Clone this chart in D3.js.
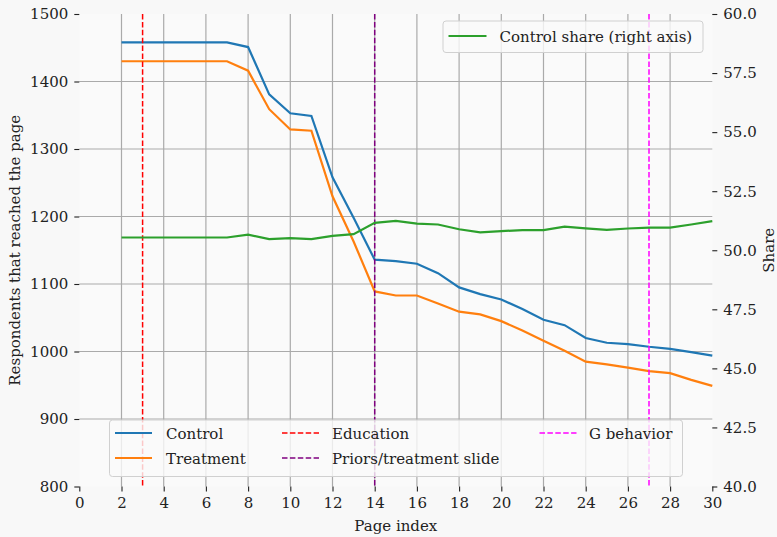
<!DOCTYPE html>
<html>
<head>
<meta charset="utf-8">
<script src="https://cdn.jsdelivr.net/npm/d3@7"></script>
<style>
  html, body { margin: 0; padding: 0; background: #f8f8f8; }
  svg { display: block; }
  svg text { font-family: "DejaVu Serif", "Liberation Serif", serif; fill: #222; }
</style>
</head>
<body>
<svg id="chart" width="777" height="537"></svg>
<script>
// ---- data ----
const pages = [2,3,4,5,6,7,8,9,10,11,12,13,14,15,16,17,18,19,20,21,22,23,24,25,26,27,28,29,30];
const control = [1458,1458,1458,1458,1458,1458,1451,1381,1353,1349,1258,1198,1136,1134,1130,1116,1095,1085,1077,1063,1047,1039,1020,1013,1011,1007,1004,999,994];
const treatment = [1430,1430,1430,1430,1430,1430,1416,1359,1329,1327,1230,1163,1089,1083,1083,1071,1059,1055,1045,1031,1016,1001,985,981,976,971,968,958,949];
const controlShare = [50.54,50.54,50.54,50.54,50.54,50.54,50.66,50.47,50.51,50.47,50.61,50.68,51.16,51.24,51.13,51.09,50.89,50.76,50.81,50.85,50.85,51.0,50.93,50.86,50.92,50.96,50.96,51.09,51.23];
const markerPages = [3, 14, 27];
const markerLabels = ["Education", "Priors/treatment slide", "G behavior"];
const xTicks = [0,2,4,6,8,10,12,14,16,18,20,22,24,26,28,30];
const yTicks = [800,900,1000,1100,1200,1300,1400,1500];
const y2Ticks = [40,42.5,45,47.5,50,52.5,55,57.5,60];

// ---- layout ----
const L = 79.3, R = 712.3, T = 14, B = 486.5;
const svg = d3.select("#chart");
svg.append("rect").attr("width", 777).attr("height", 537).attr("fill", "#f8f8f8");
svg.append("rect").attr("x", L).attr("y", T).attr("width", R - L).attr("height", B - T).attr("fill", "#fafafa");

const x = d3.scaleLinear().domain([0, 30]).range([L, R]);
const y = d3.scaleLinear().domain([800, 1500]).range([B, T]);
const y2 = d3.scaleLinear().domain([40, 60]).range([B, T]);

// grid
const grid = svg.append("g");
grid.selectAll("line.v").data(xTicks.filter(d => d > 0 && d < 30)).join("line")
  .attr("x1", d => x(d)).attr("x2", d => x(d)).attr("y1", T).attr("y2", B)
  .attr("stroke", "#aaaaaa").attr("stroke-width", 1.2);
grid.selectAll("line.h").data(yTicks.filter(d => d > 800 && d < 1500)).join("line")
  .attr("x1", L).attr("x2", R).attr("y1", d => y(d)).attr("y2", d => y(d))
  .attr("stroke", "#aaaaaa").attr("stroke-width", 1.2);

// axes
const fs = 15;
const ax = svg.append("g").attr("transform", `translate(0,${B})`)
  .call(d3.axisBottom(x).tickValues(xTicks).tickFormat(d3.format("d")).tickSize(5).tickPadding(6));
const ayl = svg.append("g").attr("transform", `translate(${L},0)`)
  .call(d3.axisLeft(y).tickValues(yTicks).tickFormat(d3.format("d")).tickSize(5).tickPadding(6));
const ayr = svg.append("g").attr("transform", `translate(${R},0)`)
  .call(d3.axisRight(y2).tickValues(y2Ticks).tickFormat(d3.format(".1f")).tickSize(5).tickPadding(6));
[ax, ayl, ayr].forEach(g => {
  g.attr("font-family", null).attr("font-size", null);
  g.select(".domain").remove();
  g.selectAll(".tick line").attr("stroke", "#222").attr("stroke-width", 1.1);
  g.selectAll(".tick text").style("font-size", fs + "px").attr("fill", "#222");
});

// axis labels
svg.append("text").attr("x", (L + R) / 2).attr("y", 531).attr("text-anchor", "middle")
  .style("font-size", fs + "px").text("Page index");
svg.append("text").attr("transform", `translate(20,${(T + B) / 2}) rotate(-90)`)
  .attr("text-anchor", "middle").style("font-size", fs + "px").text("Respondents that reached the page");
svg.append("text").attr("transform", `translate(774,${(T + B) / 2}) rotate(-90)`)
  .attr("text-anchor", "middle").style("font-size", fs + "px").text("Share");

// lines
const line = (ys, sc) => d3.line().x((d, i) => x(pages[i])).y((d) => sc(d))(ys);
svg.append("path").attr("d", line(control, y)).attr("fill", "none").attr("stroke", "#1f77b4").attr("stroke-width", 2.2);
svg.append("path").attr("d", line(treatment, y)).attr("fill", "none").attr("stroke", "#ff7f0e").attr("stroke-width", 2.2);

// marker vertical lines
const markerColors = ["#ff0000", "#800080", "#ff00ff"];
svg.selectAll("line.mk").data(markerPages).join("line")
  .attr("x1", d => x(d)).attr("x2", d => x(d)).attr("y1", T).attr("y2", B)
  .attr("stroke", (d, i) => markerColors[i]).attr("stroke-width", 1.5).attr("stroke-dasharray", "5.5,2.4");

// legend 1 (bottom)
const lg = svg.append("g");
lg.append("rect").attr("x", 109.5).attr("y", 420).attr("width", 573).attr("height", 56.5).attr("rx", 3)
  .attr("fill", "#fafafa").attr("fill-opacity", 0.8).attr("stroke", "#d0d0d0").attr("stroke-width", 1);
const items = [
  {label: "Control", color: "#1f77b4", dash: null, lx: 115, tx: 166, ly: 433},
  {label: "Treatment", color: "#ff7f0e", dash: null, lx: 115, tx: 166, ly: 458},
  {label: markerLabels[0], color: markerColors[0], dash: "5.5,2.4", lx: 282, tx: 332, ly: 433},
  {label: markerLabels[1], color: markerColors[1], dash: "5.5,2.4", lx: 282, tx: 332, ly: 458},
  {label: markerLabels[2], color: markerColors[2], dash: "5.5,2.4", lx: 539.5, tx: 589, ly: 433}
];
items.forEach(it => {
  lg.append("line").attr("x1", it.lx).attr("x2", it.lx + 37).attr("y1", it.ly).attr("y2", it.ly)
    .attr("stroke", it.color).attr("stroke-width", it.dash ? 1.5 : 2.2).attr("stroke-dasharray", it.dash);
  lg.append("text").attr("x", it.tx).attr("y", it.ly + 5.5).style("font-size", fs + "px").text(it.label);
});

// share line (right axis)
svg.append("path").attr("d", line(controlShare, y2)).attr("fill", "none").attr("stroke", "#2ca02c").attr("stroke-width", 2.2);

// legend 2 (top right)
const lg2 = svg.append("g");
lg2.append("rect").attr("x", 443).attr("y", 21).attr("width", 260).attr("height", 31.5).attr("rx", 3)
  .attr("fill", "#fafafa").attr("fill-opacity", 0.8).attr("stroke", "#d0d0d0").attr("stroke-width", 1);
lg2.append("line").attr("x1", 448.5).attr("x2", 486.5).attr("y1", 36).attr("y2", 36)
  .attr("stroke", "#2ca02c").attr("stroke-width", 2.2);
lg2.append("text").attr("x", 499.5).attr("y", 41.5).style("font-size", fs + "px").text("Control share (right axis)");
</script>
</body>
</html>
